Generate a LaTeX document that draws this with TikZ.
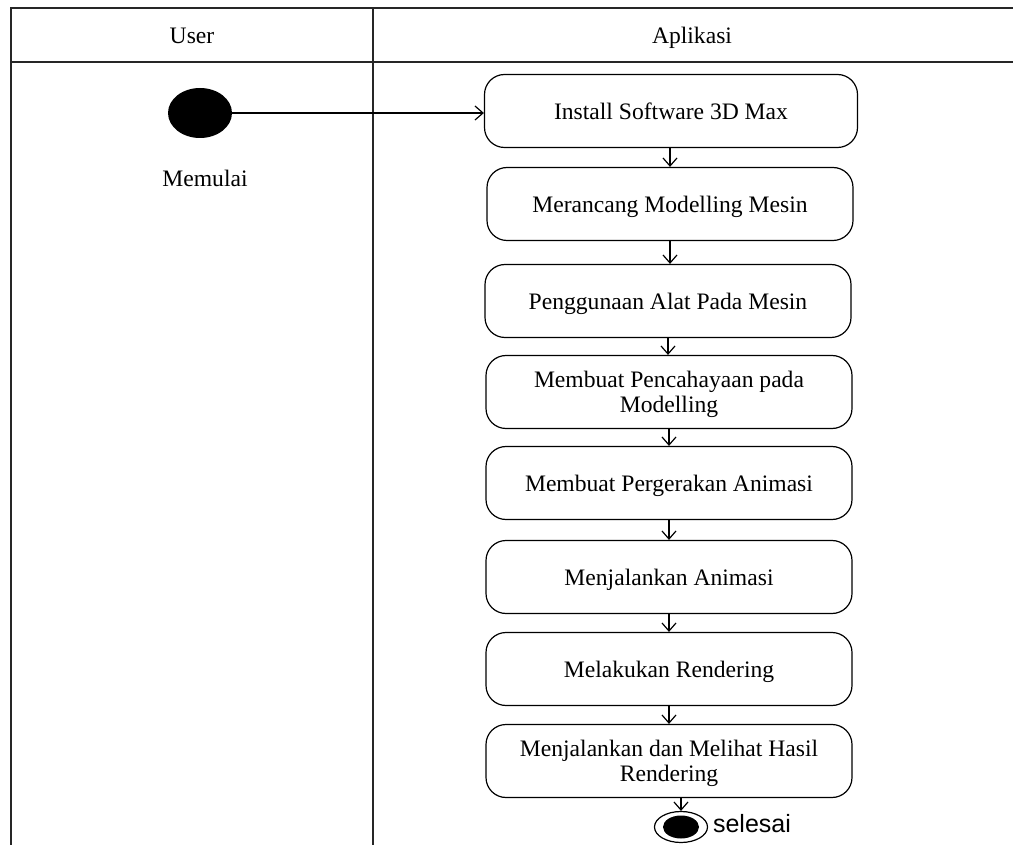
\documentclass[tikz,border=0pt]{standalone}
\usepackage{fontspec}
\setmainfont{Liberation Serif}
\setsansfont{Liberation Sans}
\usetikzlibrary{arrows.meta, shapes.geometric}

\begin{document}
\begin{tikzpicture}[
    x=0.5pt, y=-0.5pt,
    font=\fontsize{11.8}{12.3}\selectfont,
    lane/.style={draw=black!85, line width=0.9pt},
    box/.style={draw, line width=0.6pt, rounded corners=10pt, minimum width=183pt,
                minimum height=36.5pt, align=center, text depth=0pt},
    arr/.style={-{Straight Barb[length=4pt, width=7pt]}, line width=0.6pt}
  ]
  \useasboundingbox (0,0) rectangle (1013,845);

  % Swimlanes
  \draw[lane] (11,845) -- (11,8) -- (1013,8);
  \draw[lane] (11,62) -- (1013,62);
  \draw[lane] (373,8) -- (373,845);
  \node[anchor=base] (huser) at (192,44) {User};
  \node[anchor=base] (happ)  at (692,44) {Aplikasi};

  % Nodes
  \node[ellipse, fill=black, minimum width=32pt, minimum height=25pt, inner sep=0pt] (start) at (200,113) {};
  \node (startlbl) at (205,178) {Memulai};
  \node[box, minimum width=186.5pt] (install) at (671,111) {Install Software 3D Max};
  \node[box] (rancang)  at (670,204) {Merancang Modelling Mesin};
  \node[box] (alat)     at (668,301) {Penggunaan Alat Pada Mesin};
  \node[box] (cahaya)   at (669,392) {Membuat Pencahayaan pada\\Modelling};
  \node[box] (gerak)    at (669,483) {Membuat Pergerakan Animasi};
  \node[box] (jalan)    at (669,577) {Menjalankan Animasi};
  \node[box] (render)   at (669,669) {Melakukan Rendering};
  \node[box] (hasil)    at (669,761) {Menjalankan dan Melihat Hasil\\Rendering};
  \node[ellipse, draw, line width=0.6pt, minimum width=26.5pt, minimum height=15.5pt, inner sep=0pt] (stop) at (681,827) {};
  \node[ellipse, fill=black, minimum width=18pt, minimum height=11.5pt, inner sep=0pt] (stopin) at (stop) {};
  \node[font=\sffamily\fontsize{12.5}{14}\selectfont, anchor=west] (stoplbl) at (706,824) {selesai};

  % Arrows
  \draw[arr] (start.east) -- (start.east -| install.west);
  \draw[arr] (rancang.north |- install.south) -- (rancang.north);
  \draw[arr] (rancang.south) -- (rancang.south |- alat.north);
  \draw[arr] (alat.south) -- (alat.south |- cahaya.north);
  \draw[arr] (cahaya.south) -- (cahaya.south |- gerak.north);
  \draw[arr] (gerak.south) -- (gerak.south |- jalan.north);
  \draw[arr] (jalan.south) -- (jalan.south |- render.north);
  \draw[arr] (render.south) -- (render.south |- hasil.north);
  \draw[arr] (stop.north |- hasil.south) -- (stop.north);
\end{tikzpicture}
\end{document}
